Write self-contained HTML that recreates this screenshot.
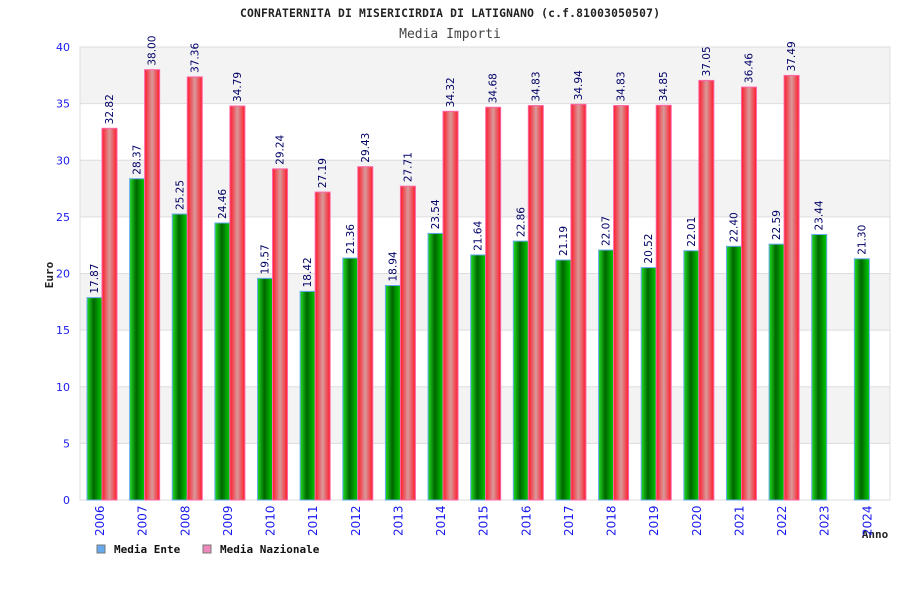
<!DOCTYPE html>
<html><head><meta charset="utf-8"><style>
body{margin:0;background:#fff}
svg{display:block;font-family:"DejaVu Sans Mono","Liberation Mono",monospace}
</style></head><body>
<svg id="c" width="900" height="600" xmlns="http://www.w3.org/2000/svg">
<defs>
<linearGradient id="gg" x1="0" x2="1"><stop offset="0" stop-color="#22dd22"/><stop offset="0.45" stop-color="#006600"/><stop offset="1" stop-color="#00cc00"/></linearGradient>
<linearGradient id="rg" x1="0" x2="1"><stop offset="0" stop-color="#ff1a2a"/><stop offset="0.5" stop-color="#d89a9a"/><stop offset="1" stop-color="#ff1a2a"/></linearGradient>
</defs>
<text x="450" y="17" text-anchor="middle" font-size="11.3" font-weight="bold" fill="#222" textLength="420">CONFRATERNITA DI MISERICIRDIA DI LATIGNANO (c.f.81003050507)</text>
<text x="450" y="38" text-anchor="middle" font-size="13" fill="#444">Media Importi</text>
<text transform="translate(53,275) rotate(-90)" text-anchor="middle" font-size="11" font-weight="bold" fill="#222">Euro</text>
<text x="875" y="538" text-anchor="middle" font-size="11" font-weight="bold" fill="#222">Anno</text>
<g id="plot"></g>
<rect x="97" y="545" width="8" height="8" fill="#66aaee" stroke="#777"/>
<text x="114" y="553" font-size="11" font-weight="bold" fill="#111">Media Ente</text>
<rect x="203" y="545" width="8" height="8" fill="#ee88bb" stroke="#777"/>
<text x="220" y="553" font-size="11" font-weight="bold" fill="#111">Media Nazionale</text>
</svg>
<script>
const years=["2006","2007","2008","2009","2010","2011","2012","2013","2014","2015","2016","2017","2018","2019","2020","2021","2022","2023","2024"];
const ente=[17.87,28.37,25.25,24.46,19.57,18.42,21.36,18.94,23.54,21.64,22.86,21.19,22.07,20.52,22.01,22.40,22.59,23.44,21.30];
const nazionale=[32.82,38.00,37.36,34.79,29.24,27.19,29.43,27.71,34.32,34.68,34.83,34.94,34.83,34.85,37.05,36.46,37.49,null,null];
const yTicks=[0,5,10,15,20,25,30,35,40];
const L=80,R=890,T=47,B=500,YMAX=40;
const NS="http://www.w3.org/2000/svg";
const g=document.getElementById('plot');
const y=v=>B-(v/YMAX)*(B-T);
const gw=(R-L)/years.length;
const x=i=>L+i*gw;
function mk(t,a){const e=document.createElementNS(NS,t);for(const k in a)e.setAttribute(k,a[k]);g.appendChild(e);return e;}
for(let i=0;i<yTicks.length-1;i++){
  if(i%2===1){const r=mk('rect',{x:L,y:y(yTicks[i+1]),width:R-L,height:y(yTicks[i])-y(yTicks[i+1]),fill:'#f3f3f3'});
  
  }
}
yTicks.forEach(v=>{
  const l=mk('line',{x1:L,x2:R,y1:y(v),y2:y(v),stroke:'#dddddd'});
  
  
  const t=mk('text',{x:L-10,y:y(v)+4,'text-anchor':'end','font-size':11,fill:'#1a1aee','font-family':'"DejaVu Sans","Liberation Sans",sans-serif'});
  t.textContent=v;
  
  
});
const fr=mk('rect',{x:L,y:T,width:R-L,height:B-T,fill:'none',stroke:'#dddddd'});


function bar(i,v,off,fill,stroke,name){
  if(v==null)return;
  const bx=x(i)+off,by=y(v);
  const r=mk('rect',{x:bx,y:by,width:15,height:B-by,fill:fill,stroke:stroke,'stroke-width':1});
  
  
  const t=mk('text',{transform:`translate(${bx+11},${by-4}) rotate(-90)`,'font-size':10.5,fill:'#000066','font-family':'"DejaVu Sans","Liberation Sans",sans-serif'});
  t.textContent=v.toFixed(2);
  
  
}
years.forEach((yr,i)=>{
  bar(i,ente[i],7,'url(#gg)','#66aaee','bar-ente-'+yr);
  bar(i,nazionale[i],22,'url(#rg)','#ff66aa','bar-nazionale-'+yr);
  const t=mk('text',{transform:`translate(${x(i)+24},${536}) rotate(-90)`,'font-size':12,fill:'#1a1aee','font-family':'"DejaVu Sans","Liberation Sans",sans-serif'});
  t.textContent=yr;
  
  
});
</script>
</body></html>
